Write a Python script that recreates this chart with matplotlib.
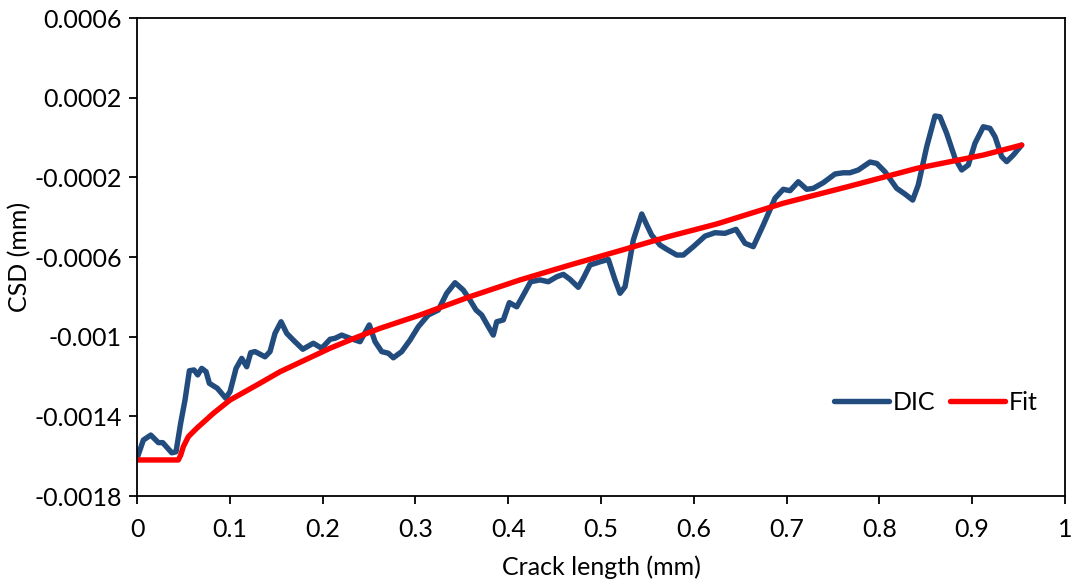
import matplotlib
matplotlib.use("Agg")
import matplotlib.pyplot as plt

dic_x = [0.000, 0.0068, 0.0148, 0.0230, 0.0277, 0.0374, 0.0420, 0.0471, 0.0517, 0.0564,
         0.0614, 0.0654, 0.0697, 0.0744, 0.0779, 0.0865, 0.0956, 0.1002, 0.1067, 0.1128,
         0.1182, 0.1225, 0.1272, 0.1379, 0.1433, 0.1487, 0.1552, 0.1613, 0.1684, 0.1786,
         0.1900, 0.1990, 0.2080, 0.2134, 0.2206, 0.2295, 0.2403, 0.2503, 0.2565, 0.2637,
         0.2708, 0.2762, 0.2852, 0.2942, 0.3031, 0.3139, 0.3247, 0.3337, 0.3427, 0.3516,
         0.3588, 0.3653, 0.3714, 0.3786, 0.3839, 0.3876, 0.3947, 0.4012, 0.4092, 0.4163,
         0.4242, 0.4343, 0.4432, 0.4523, 0.4594, 0.4666, 0.4755, 0.4809, 0.4881, 0.4989,
         0.5079, 0.5151, 0.5205, 0.5259, 0.5348, 0.5439, 0.5493, 0.5546, 0.5636, 0.5708,
         0.5816, 0.5887, 0.5995, 0.6121, 0.6228, 0.6336, 0.6455, 0.6552, 0.6641, 0.6749,
         0.6875, 0.6964, 0.7037, 0.7126, 0.7217, 0.7288, 0.7395, 0.7522, 0.7611, 0.7683,
         0.7773, 0.7899, 0.7971, 0.8060, 0.8186, 0.8276, 0.8359, 0.8419, 0.8510, 0.8599,
         0.8653, 0.8725, 0.8815, 0.8887, 0.8958, 0.9030, 0.9120, 0.9192, 0.9246, 0.9318,
         0.9372, 0.9443, 0.9533]
dic_y = [-16.11, -15.19, -14.94, -15.32, -15.32, -15.83, -15.78, -14.32, -13.18, -11.71,
         -11.67, -11.92, -11.59, -11.76, -12.34, -12.59, -13.09, -12.76, -11.59, -11.09,
         -11.51, -10.80, -10.75, -11.01, -10.75, -9.83, -9.25, -9.83, -10.17, -10.63,
         -10.33, -10.58, -10.13, -10.08, -9.92, -10.08, -10.25, -9.41, -10.25, -10.75,
         -10.83, -11.06, -10.75, -10.17, -9.50, -8.91, -8.66, -7.82, -7.29, -7.66,
         -8.16, -8.66, -8.91, -9.50, -9.92, -9.25, -9.16, -8.29, -8.50, -7.91,
         -7.24, -7.15, -7.24, -6.99, -6.87, -7.12, -7.52, -7.07, -6.40, -6.24,
         -6.12, -7.15, -7.82, -7.49, -5.15, -3.84, -4.39, -4.90, -5.40, -5.61,
         -5.90, -5.90, -5.48, -4.95, -4.78, -4.81, -4.61, -5.31, -5.48, -4.39,
         -3.05, -2.60, -2.67, -2.22, -2.60, -2.55, -2.27, -1.83, -1.77, -1.77,
         -1.63, -1.23, -1.30, -1.72, -2.55, -2.84, -3.14, -2.38, -0.46, 1.08,
         1.04, 0.21, -1.04, -1.63, -1.38, -0.29, 0.54, 0.46, 0.04, -0.96,
         -1.21, -0.88, -0.38]

# fitted curve
fit_x = [0.000, 0.0445, 0.0470, 0.0499, 0.0553, 0.0643, 0.0822, 0.1002, 0.1290, 0.1541,
         0.1810, 0.2080, 0.2367, 0.2619, 0.3050, 0.3588, 0.4127, 0.4666, 0.5205, 0.5722,
         0.6247, 0.6964, 0.7683, 0.8402, 0.9120, 0.9533]
fit_y = [-16.19, -16.19, -15.95, -15.52, -15.02, -14.60, -13.85, -13.18, -12.43, -11.76,
         -11.17, -10.58, -10.03, -9.58, -8.91, -7.99, -7.15, -6.40, -5.68, -4.98,
         -4.34, -3.30, -2.44, -1.55, -0.88, -0.38]

x_ticks = [0, 0.1, 0.2, 0.3, 0.4, 0.5, 0.6, 0.7, 0.8, 0.9, 1]
x_tick_labels = ["0", "0.1", "0.2", "0.3", "0.4", "0.5", "0.6", "0.7", "0.8", "0.9", "1"]
y_ticks = [-0.0018, -0.0014, -0.0010, -0.0006, -0.0002, 0.0002, 0.0006]
y_tick_labels = ["-0.0018", "-0.0014", "-0.001", "-0.0006", "-0.0002", "0.0002", "0.0006"]

plt.rcParams["font.family"] = ["Lato", "DejaVu Sans"]

fig = plt.figure(figsize=(10.74, 5.87), dpi=100)
ax = fig.add_axes([0.1276, 0.155, 0.864, 0.8143])

scale = 1e-4
ax.plot(dic_x, [v * scale for v in dic_y], color="#234C7E", lw=3.9,
        solid_joinstyle="round", solid_capstyle="round", label="DIC")
ax.plot(fit_x, [v * scale for v in fit_y], color="#FF0000", lw=3.9,
        solid_joinstyle="round", solid_capstyle="round", label="Fit")

ax.set_xlim(0, 1)
ax.set_ylim(-0.0018, 0.0006)
ax.set_xticks(x_ticks)
ax.set_xticklabels(x_tick_labels)
ax.set_yticks(y_ticks)
ax.set_yticklabels(y_tick_labels)
ax.tick_params(direction="out", length=6, width=1.3, labelsize=18)
ax.tick_params(axis="x", pad=10)
ax.tick_params(axis="y", pad=5)

for sp in ax.spines.values():
    sp.set_linewidth(1.3)

ax.set_xlabel("Crack length (mm)", fontsize=18, labelpad=10)
ax.set_ylabel("CSD (mm)", fontsize=18, labelpad=2)

ax.legend(loc="lower right", bbox_to_anchor=(0.995, 0.125), ncol=2, frameon=False,
          fontsize=18, handlelength=2.2, handletextpad=0.15, columnspacing=0.6)

fig.savefig("out.png", dpi=100)
